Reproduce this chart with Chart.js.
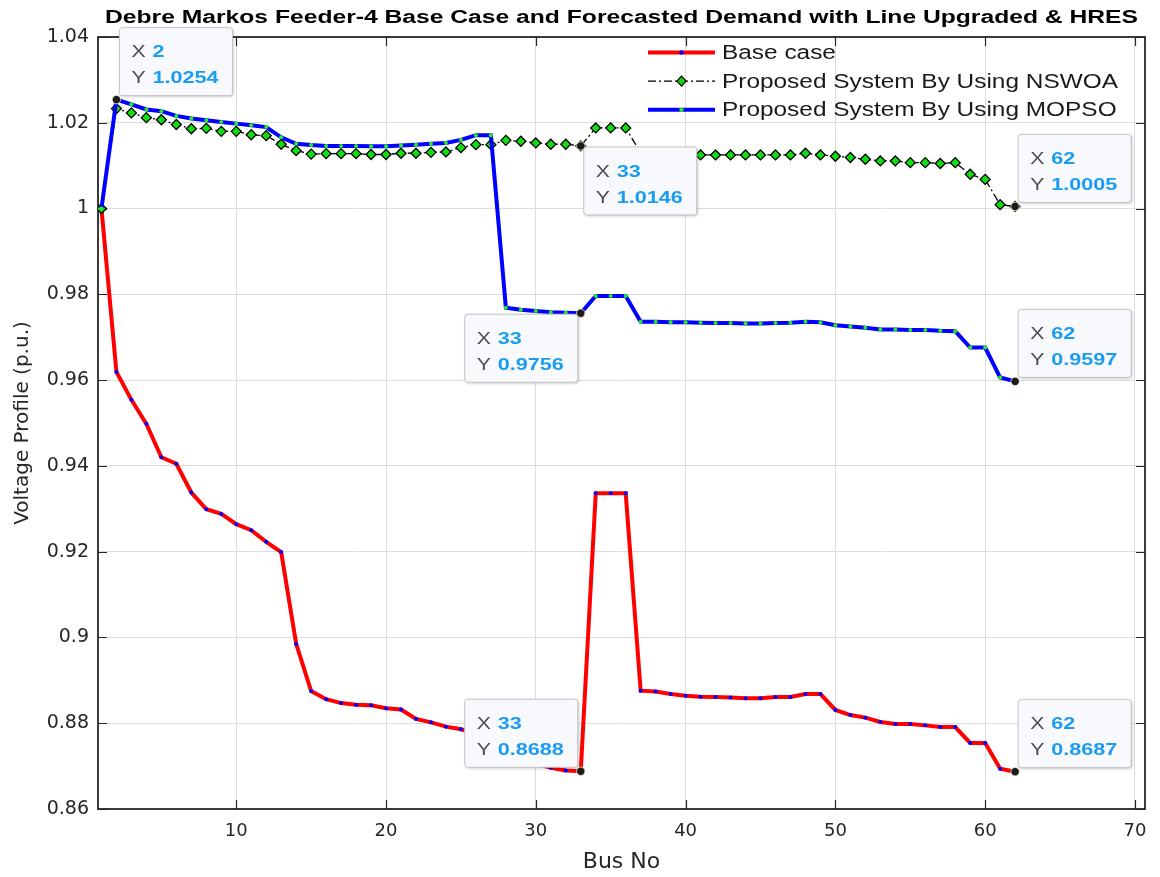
<!DOCTYPE html>
<html>
<head>
<meta charset="utf-8">
<title>Debre Markos Feeder-4 Voltage Profile</title>
<script src="https://cdn.jsdelivr.net/npm/chart.js@4.4.1/dist/chart.umd.min.js"></script>
<style>
  html, body { margin: 0; padding: 0; background: #ffffff; }
  #wrap { width: 1160px; height: 877px; }
</style>
</head>
<body>
<div id="wrap"><canvas id="voltageChart" width="1160" height="877"></canvas></div>
<script>
// ================================================================
// Voltage profile per bus : base case vs. NSWOA vs. MOPSO
// ================================================================

// --- data ---

const busNo = [
  1, 2, 3, 4, 5, 6, 7, 8, 9, 10, 11, 12, 13, 14, 15, 16, 17, 18, 19, 20,
  21, 22, 23, 24, 25, 26, 27, 28, 29, 30, 31, 32, 33, 34, 35, 36, 37, 38, 39, 40,
  41, 42, 43, 44, 45, 46, 47, 48, 49, 50, 51, 52, 53, 54, 55, 56, 57, 58, 59, 60,
  61, 62,
];

const baseCase = [
  1.0000, 0.9619, 0.9554, 0.9498, 0.9420, 0.9405, 0.9338, 0.9299, 0.9288, 0.9264,
  0.9250, 0.9223, 0.9199, 0.8985, 0.8875, 0.8856, 0.8847, 0.8843, 0.8842, 0.8835,
  0.8832, 0.8810, 0.8802, 0.8792, 0.8786, 0.8776, 0.8762, 0.8742, 0.8722, 0.8706,
  0.8696, 0.8690, 0.8688, 0.9336, 0.9336, 0.9336, 0.8876, 0.8874, 0.8868, 0.8864,
  0.8862, 0.8861, 0.8860, 0.8858, 0.8858, 0.8861, 0.8861, 0.8868, 0.8868, 0.8831,
  0.8819, 0.8813, 0.8803, 0.8798, 0.8798, 0.8795, 0.8791, 0.8791, 0.8754, 0.8754,
  0.8694, 0.8687,
];

const nswoa = [
  1.0000, 1.0233, 1.0223, 1.0212, 1.0207, 1.0196, 1.0186, 1.0187, 1.0180, 1.0180,
  1.0172, 1.0170, 1.0150, 1.0135, 1.0127, 1.0128, 1.0128, 1.0128, 1.0126, 1.0126,
  1.0129, 1.0129, 1.0131, 1.0132, 1.0142, 1.0149, 1.0149, 1.0159, 1.0157, 1.0153,
  1.0150, 1.0150, 1.0146, 1.0188, 1.0188, 1.0188, 1.0130, 1.0126, 1.0126, 1.0125,
  1.0125, 1.0125, 1.0125, 1.0125, 1.0125, 1.0125, 1.0125, 1.0129, 1.0125, 1.0122,
  1.0119, 1.0115, 1.0111, 1.0111, 1.0107, 1.0107, 1.0105, 1.0107, 1.0080, 1.0068,
  1.0009, 1.0005,
];

const mopso = [
  1.0000, 1.0254, 1.0243, 1.0231, 1.0227, 1.0216, 1.0210, 1.0206, 1.0202, 1.0198,
  1.0194, 1.0190, 1.0166, 1.0151, 1.0148, 1.0146, 1.0146, 1.0146, 1.0145, 1.0145,
  1.0147, 1.0149, 1.0151, 1.0153, 1.0160, 1.0171, 1.0171, 0.9769, 0.9764, 0.9761,
  0.9758, 0.9757, 0.9756, 0.9796, 0.9796, 0.9796, 0.9736, 0.9736, 0.9735, 0.9735,
  0.9734, 0.9733, 0.9733, 0.9732, 0.9732, 0.9733, 0.9734, 0.9736, 0.9735, 0.9728,
  0.9725, 0.9722, 0.9718, 0.9718, 0.9717, 0.9717, 0.9715, 0.9714, 0.9676, 0.9676,
  0.9606, 0.9597,
];

const chartTitle =
  "Debre Markos Feeder-4 Base Case and Forecasted Demand with Line Upgraded & HRES";

const seriesNames = [
  "Base case",
  "Proposed System By Using NSWOA",
  "Proposed System By Using MOPSO",
];

const xTicks = [10, 20, 30, 40, 50, 60, 70];
const yTicks = [0.86, 0.88, 0.9, 0.92, 0.94, 0.96, 0.98, 1, 1.02, 1.04];

// data tips : which series (0 base, 1 nswoa, 2 mopso) and which bus
const tipSeries = [2, 1, 1, 2, 2, 0, 0];
const tipBus = [2, 33, 62, 33, 62, 33, 62];

// --- helpers ---

const FONT = "'DejaVu Sans', 'Liberation Sans', Arial, sans-serif";
const ARIAL = "'Liberation Sans', Arial, sans-serif";
const AXIS_COLOR = "#262626";

// box corner relative to the tip point: ur / lr / ll / ul
const tipSide = ["ur", "lr", "ur", "ll", "ur", "ul", "ur"];

function toPoints(values) {
  return busNo.map((b, i) => ({ x: b, y: values[i] }));
}

// the source figure is stretched sideways, so its text is drawn a bit wider
function stretchedText(ctx, text, x, y, sx) {
  ctx.save();
  ctx.translate(x, y);
  ctx.scale(sx, 1);
  ctx.fillText(text, 0, 0);
  ctx.restore();
}

// --- plugins ---

// title centred over the plot area
const figTitle = {
  id: "figTitle",
  afterDraw(chart) {
    const { ctx, chartArea: a } = chart;
    ctx.save();
    ctx.font = "bold 18px " + ARIAL;
    ctx.fillStyle = "#000000";
    ctx.textAlign = "center";
    ctx.textBaseline = "middle";
    const sx = 1033 / ctx.measureText(chartTitle).width;
    stretchedText(ctx, chartTitle, (a.left + a.right) / 2, a.top - 19, sx);
    ctx.restore();
  },
};

// axes box + MATLAB style inward ticks
const axesBox = {
  id: "axesBox",
  beforeDatasetsDraw(chart) {
    const { ctx, chartArea: a, scales } = chart;
    ctx.save();
    ctx.strokeStyle = AXIS_COLOR;
    ctx.lineWidth = 1.2;
    ctx.beginPath();
    xTicks.forEach((v) => {
      const px = Math.round(scales.x.getPixelForValue(v)) + 0.5;
      ctx.moveTo(px, a.bottom);
      ctx.lineTo(px, a.bottom - 9);
      ctx.moveTo(px, a.top);
      ctx.lineTo(px, a.top + 9);
    });
    yTicks.forEach((v) => {
      const py = Math.round(scales.y.getPixelForValue(v)) + 0.5;
      ctx.moveTo(a.left, py);
      ctx.lineTo(a.left + 9, py);
      ctx.moveTo(a.right, py);
      ctx.lineTo(a.right - 9, py);
    });
    ctx.stroke();
    ctx.lineWidth = 1.8;
    ctx.strokeRect(a.left, a.top, a.right - a.left, a.bottom - a.top);
    ctx.restore();
  },
};

// legend drawn like the MATLAB one (line sample + marker, no box)
const matlabLegend = {
  id: "matlabLegend",
  afterDatasetsDraw(chart) {
    const { ctx, chartArea: a } = chart;
    const x0 = a.right - 497;
    const x1 = x0 + 67;
    const xm = (x0 + x1) / 2;
    ctx.save();
    ctx.font = "20px " + ARIAL;
    ctx.textBaseline = "middle";
    seriesNames.forEach((name, i) => {
      const y = a.top + 15.5 + i * 28.6;
      ctx.setLineDash(i === 1 ? [8, 3, 2, 3] : []);
      ctx.lineWidth = i === 1 ? 1.3 : 4;
      ctx.strokeStyle = i === 0 ? "#ff0000" : i === 1 ? "#000000" : "#0000ff";
      ctx.beginPath();
      ctx.moveTo(x0, y);
      ctx.lineTo(x1, y);
      ctx.stroke();
      ctx.setLineDash([]);
      if (i === 1) {
        ctx.beginPath();
        ctx.moveTo(xm, y - 5);
        ctx.lineTo(xm + 4.5, y);
        ctx.lineTo(xm, y + 5);
        ctx.lineTo(xm - 4.5, y);
        ctx.closePath();
        ctx.fillStyle = "#11dd11";
        ctx.fill();
        ctx.strokeStyle = "#000";
        ctx.lineWidth = 1.3;
        ctx.stroke();
      } else {
        ctx.beginPath();
        ctx.arc(xm, y, 2.2, 0, Math.PI * 2);
        ctx.fillStyle = i === 0 ? "#0000ff" : "#22ee22";
        ctx.fill();
      }
      ctx.fillStyle = "#1a1a1a";
      stretchedText(ctx, name, x1 + 7, y + 1, 1.22);
    });
    ctx.restore();
  },
};

// data tips (X / Y boxes with a black dot on the picked point)
const dataTips = {
  id: "dataTips",
  afterDatasetsDraw(chart) {
    const { ctx, scales } = chart;
    const series = [baseCase, nswoa, mopso];
    const w = 113;
    const h = 68;
    ctx.save();
    tipBus.forEach((bus, i) => {
      const yVal = series[tipSeries[i]][busNo.indexOf(bus)];
      const px = scales.x.getPixelForValue(bus);
      const py = scales.y.getPixelForValue(yVal);
      const side = tipSide[i];
      const left = side[1] === "r" ? px + 3 : px - 3 - w;
      const top = side[0] === "u" ? py - 4 - h : py + 1;

      // box
      ctx.shadowColor = "rgba(0,0,0,0.25)";
      ctx.shadowBlur = 3;
      ctx.shadowOffsetX = 1;
      ctx.shadowOffsetY = 1;
      ctx.fillStyle = "#f8f9fc";
      ctx.beginPath();
      ctx.roundRect(left, top, w, h, 3);
      ctx.fill();
      ctx.shadowColor = "transparent";
      ctx.strokeStyle = "#c4c4c4";
      ctx.lineWidth = 1;
      ctx.stroke();

      // text
      ctx.textBaseline = "middle";
      ctx.font = "17px " + ARIAL;
      ctx.fillStyle = "#4d4d4d";
      stretchedText(ctx, "X", left + 12, top + 25, 1.25);
      stretchedText(ctx, "Y", left + 12, top + 51, 1.25);
      ctx.font = "bold 17px " + ARIAL;
      ctx.fillStyle = "#1a9cf2";
      stretchedText(ctx, String(bus), left + 33, top + 25, 1.27);
      stretchedText(ctx, yVal.toFixed(4), left + 33, top + 51, 1.27);

      // picked point
      ctx.beginPath();
      ctx.arc(px, py, 4.2, 0, Math.PI * 2);
      ctx.fillStyle = "#1c1c1c";
      ctx.fill();
      ctx.strokeStyle = "#f2f0c0";
      ctx.lineWidth = 0.8;
      ctx.stroke();
    });
    ctx.restore();
  },
};

// --- chart ---

document.addEventListener("DOMContentLoaded", function () {
  const ctx = document.getElementById("voltageChart").getContext("2d");

  new Chart(ctx, {
    type: "line",
    data: {
      datasets: [
        {
          label: seriesNames[0],
          data: toPoints(baseCase),
          borderColor: "#ff0000",
          borderWidth: 4,
          pointRadius: 2,
          pointBorderWidth: 0,
          pointBackgroundColor: "#0000ff",
          tension: 0,
          order: 2,
        },
        {
          label: seriesNames[1],
          data: toPoints(nswoa),
          borderColor: "#000000",
          borderWidth: 1.3,
          borderDash: [8, 3, 2, 3],
          pointStyle: "rectRot",
          pointRadius: 5,
          pointBorderWidth: 1.3,
          pointBorderColor: "#000000",
          pointBackgroundColor: "#11dd11",
          tension: 0,
          order: 1,
        },
        {
          label: seriesNames[2],
          data: toPoints(mopso),
          borderColor: "#0000ff",
          borderWidth: 4,
          pointRadius: 2,
          pointBorderWidth: 0,
          pointBackgroundColor: "#22ee22",
          tension: 0,
          order: 0,
        },
      ],
    },
    options: {
      responsive: false,
      animation: false,
      devicePixelRatio: 1,
      layout: { padding: { left: 0, right: 15, top: 37, bottom: 0 } },
      plugins: {
        legend: { display: false },
        tooltip: { enabled: false },
        title: { display: false },
      },
      scales: {
        x: {
          type: "linear",
          min: 0.77,
          max: 70.67,
          afterBuildTicks: (scale) => {
            scale.ticks = xTicks.map((v) => ({ value: v }));
          },
          afterFit: (scale) => {
            scale.height = 68;
          },
          ticks: {
            color: AXIS_COLOR,
            font: { family: FONT, size: 18 },
            padding: 12,
            maxRotation: 0,
            callback: (v) => String(v),
          },
          grid: { color: "#dcdcdc", lineWidth: 1, drawTicks: false },
          border: { display: false },
          title: {
            display: true,
            text: "Bus No",
            color: AXIS_COLOR,
            font: { family: FONT, size: 22 },
            padding: { top: 0, bottom: 2 },
          },
        },
        y: {
          type: "linear",
          min: 0.86,
          max: 1.04,
          afterBuildTicks: (scale) => {
            scale.ticks = yTicks.map((v) => ({ value: v }));
          },
          afterFit: (scale) => {
            scale.width = 98;
          },
          ticks: {
            color: AXIS_COLOR,
            font: { family: FONT, size: 19 },
            padding: 9,
            callback: (v) => String(+v.toFixed(2)),
          },
          grid: { color: "#dcdcdc", lineWidth: 1, drawTicks: false },
          border: { display: false },
          title: {
            display: true,
            text: "Voltage Profile (p.u.)",
            color: AXIS_COLOR,
            font: { family: FONT, size: 20 },
            padding: { top: 11, bottom: 0 },
          },
        },
      },
    },
    plugins: [axesBox, matlabLegend, dataTips, figTitle],
  });
});
</script>
</body>
</html>
